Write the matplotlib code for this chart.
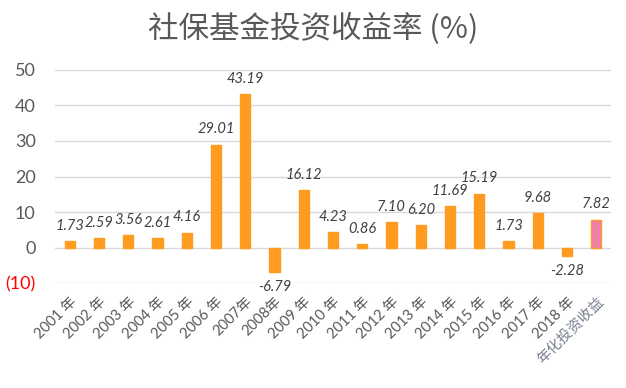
import matplotlib
matplotlib.use("Agg")
import matplotlib.pyplot as plt
import numpy as np

plt.rcParams['font.family'] = ['Lato', 'Noto Sans CJK SC', 'DejaVu Sans']

categories = ["2001 年", "2002 年", "2003 年", "2004 年", "2005 年", "2006 年", "2007年",
              "2008年", "2009 年", "2010 年", "2011 年", "2012 年", "2013 年", "2014 年",
              "2015 年", "2016 年", "2017 年", "2018 年", "年化投资收益"]
values = [1.73, 2.59, 3.56, 2.61, 4.16, 29.01, 43.19, -6.79, 16.12, 4.23, 0.86,
          7.10, 6.20, 11.69, 15.19, 1.73, 9.68, -2.28, 7.82]
yticks = [-10, 0, 10, 20, 30, 40, 50]
ytick_labels = ["(10)", "0", "10", "20", "30", "40", "50"]

grey = "#595959"
orange = "#FF9C1F"
pink = "#EF7FA6"

fig = plt.figure(figsize=(6.26, 3.88), dpi=100)
ax = fig.add_axes([0.088, 0.2706, 0.888, 0.549])

x = np.arange(len(values))
colors = [orange] * (len(values) - 1) + [pink]
edges = [orange] * len(values)
bars = ax.bar(x, values, width=0.35, color=colors, edgecolor=edges, linewidth=1.0, zorder=3)

for xi, v in zip(x, values):
    if v >= 0:
        ax.annotate(f"{v:.2f}", (xi, v), xytext=(0, 6), textcoords="offset points",
                    ha="center", va="bottom", fontsize=10.5, style="italic", color="#404040")
    else:
        ax.annotate(f"{v:.2f}", (xi, v), xytext=(0, -6), textcoords="offset points",
                    ha="center", va="top", fontsize=10.5, style="italic", color="#404040")

ax.set_xlim(-0.5, len(values) - 0.5)
ax.set_ylim(-10, 50)
ax.set_yticks(yticks)
ax.set_yticklabels(ytick_labels, fontsize=13, color=grey)
ax.get_yticklabels()[0].set_color("#FF0000")
ax.yaxis.grid(True, color="#D9D9D9", linewidth=1.0, zorder=0)
ax.tick_params(axis="y", length=0, pad=14)
ax.tick_params(axis="x", length=0, pad=8)
ax.set_xticks(x)
ax.set_xticklabels(categories, rotation=45, ha="right", rotation_mode="anchor",
                   fontsize=10.5, color=grey)
ax.get_xticklabels()[-1].set_color("#7A8290")
for s in ax.spines.values():
    s.set_visible(False)

fig.text(0.5, 0.925, "社保基金投资收益率 (%)", ha="center", va="center",
         fontsize=22, color=grey, fontweight="light",
         family=['Noto Sans CJK SC', 'DejaVu Sans'])

fig.savefig("out.png", dpi=100)
